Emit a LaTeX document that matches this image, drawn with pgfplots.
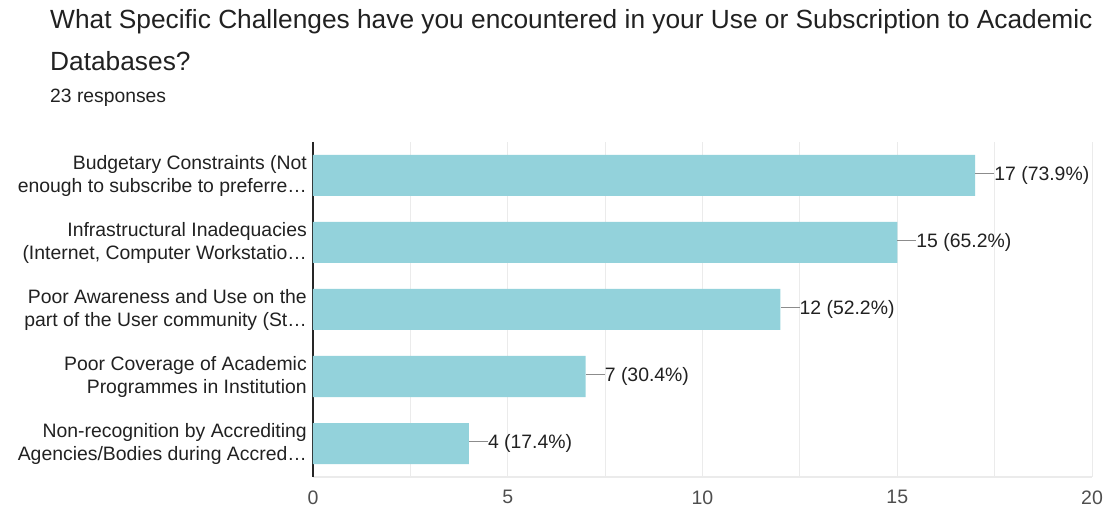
\documentclass[border=0pt]{standalone}
\usepackage{pgfplots}
\pgfplotsset{compat=1.18}
\usepackage{pgfplotstable}
\usepackage{fontspec}
\setmainfont{Liberation Sans}
\definecolor{barc}{RGB}{147,210,219}
\definecolor{txt}{RGB}{33,33,33}
\definecolor{gridc}{RGB}{235,235,235}
\pgfplotstableread[col sep=comma]{
y,x,lab
1,17,17 (73.9\%)
2,15,15 (65.2\%)
3,12,12 (52.2\%)
4,7,7 (30.4\%)
5,4,4 (17.4\%)
}\datatable
\begin{document}
\begin{tikzpicture}
\path[use as bounding box] (0pt,0pt) rectangle (1106pt,508pt);
\node[anchor=base west,inner sep=0,font=\fontsize{26.3}{28}\selectfont,text=txt] at (50pt,479pt) {What Specific Challenges have you encountered in your Use or Subscription to Academic};
\node[anchor=base west,inner sep=0,font=\fontsize{26.3}{28}\selectfont,text=txt] at (50pt,437pt) {Databases?};
\node[anchor=base west,inner sep=0,font=\fontsize{19.3}{20}\selectfont,text=txt] at (50pt,405pt) {23 responses};
\begin{axis}[
  at={(313pt,31pt)}, anchor=south west,
  scale only axis, width=779pt, height=335pt,
  xbar, bar width=41pt,
  xmin=0, xmax=20, ymin=0.5, ymax=5.5, y dir=reverse,
  xtick={0,5,10,15,20},
  minor xtick={2.5,7.5,12.5,17.5},
  xmajorgrids, xminorgrids,
  major grid style={gridc, line width=0.8pt},
  minor grid style={gridc, line width=0.8pt},
  ytick={1,2,3,4,5},
  yticklabels={{Budgetary Constraints (Not\\enough to subscribe to preferre\dots},
               {Infrastructural Inadequacies\\(Internet, Computer Workstatio\dots},
               {Poor Awareness and Use on the\\part of the User community (St\dots},
               {Poor Coverage of Academic\\Programmes in Institution},
               {Non-recognition by Accrediting\\Agencies/Bodies during Accred\dots}},
  yticklabel style={align=right, font=\fontsize{19.4}{23}\selectfont, text=txt, inner xsep=6pt},
  xticklabel style={font=\fontsize{19.5}{20}\selectfont, text=txt!80, yshift=-10pt},
  /pgf/number format/assume math mode=true,
  major tick length=0pt, minor tick length=0pt,
  axis lines*=left,
  separate axis lines,
  x axis line style={draw=gridc, line width=1.2pt},
  y axis line style={draw=black!85, line width=1.2pt},
  point meta=explicit symbolic,
  nodes near coords={\textcolor{black!45}{\rule[0.33em]{19pt}{1pt}}\pgfplotspointmeta},
  nodes near coords style={anchor=west, inner xsep=0pt, font=\fontsize{19.4}{20}\selectfont, text=txt},
  clip=false,
]
\addplot[fill=barc, draw=none] table[x=x, y=y, meta=lab, col sep=comma] {\datatable};
\end{axis}
\end{tikzpicture}
\end{document}
